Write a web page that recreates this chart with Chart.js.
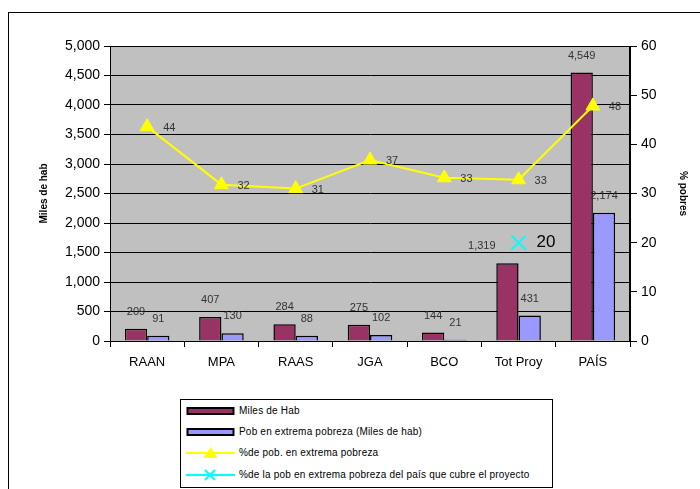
<!DOCTYPE html>
<html>
<head>
<meta charset="utf-8">
<script src="https://cdn.jsdelivr.net/npm/chart.js@4"></script>
<style>
  html, body { margin: 0; padding: 0; background: #fff; overflow: hidden; }
  #wrap { position: relative; width: 700px; height: 489px; }
  #legend {
    position: absolute; left: 180px; top: 399px; width: 373px; height: 89px;
    border: 1px solid #000; background: #fff; box-sizing: border-box;
    font-family: "Liberation Sans", Arial, sans-serif; font-size: 10px; color: #000;
  }
  .item { position: absolute; left: 0; height: 14px; width: 372px; }
  .item svg { position: absolute; left: 5px; top: 0; }
  .item span { position: absolute; left: 58px; top: 1px; white-space: nowrap; letter-spacing: 0.2px; }
</style>
</head>
<body>
<div id="wrap">
  <canvas id="chart" width="700" height="489"></canvas>
  <div id="legend"></div>
</div>
<script>
const categories = ['RAAN', 'MPA', 'RAAS', 'JGA', 'BCO', 'Tot Proy', 'PAÍS'];
const milesHab = [209, 407, 284, 275, 144, 1319, 4549];
const pobExtrema = [91, 130, 88, 102, 21, 431, 2174];
const pctPobExtrema = [43.6, 31.8, 31.0, 36.8, 33.2, 32.8, 47.8];
const pctPaisProyecto = [null, null, null, null, null, 20, null];

const seriesNames = [
    'Miles de Hab',
    'Pob en extrema pobreza (Miles de hab)',
    '%de pob. en extrema pobreza',
    '%de la pob en extrema pobreza del país que cubre el proyecto'
];

const FONT = '"Liberation Sans", Arial, sans-serif';

// gray plot area, outer frame and plot border
const backdrop = {
    id: 'backdrop',
    beforeDraw(chart) {
        const {ctx, chartArea: a} = chart;
        ctx.save();
        ctx.fillStyle = '#fff';
        ctx.fillRect(0, 0, chart.width, chart.height);
        ctx.strokeStyle = '#000';
        ctx.lineWidth = 1;
        ctx.strokeRect(8.5, 12.5, 900, 900);
        ctx.fillStyle = '#C0C0C0';
        ctx.fillRect(a.left, a.top, a.right - a.left, a.bottom - a.top);
        ctx.restore();
    },
    afterDraw(chart) {
        const {ctx, chartArea: a} = chart;
        ctx.save();
        ctx.strokeStyle = '#000';
        ctx.lineWidth = 1;
        ctx.strokeRect(a.left + 0.5, a.top + 0.5, a.right - a.left - 1, a.bottom - a.top);
        ctx.restore();
    }
};

// value labels
const valueLabels = {
    id: 'valueLabels',
    afterDatasetsDraw(chart) {
        const ctx = chart.ctx;
        const cm = chart.getDatasetMeta(3);
        ctx.save();
        ctx.fillStyle = '#333';
        ctx.font = '11px ' + FONT;
        [0, 1].forEach(di => {
            const meta = chart.getDatasetMeta(di);
            meta.data.forEach((el, i) => {
                const txt = chart.data.datasets[di].data[i].toLocaleString('en-US');
                let x = el.x;
                const y = el.y - 17;
                const w = ctx.measureText(txt).width;
                // keep clear of the cross marker
                const m = cm.data[i];
                if (pctPaisProyecto[i] !== null && m && Math.abs(m.y - y) < 14 && Math.abs(m.x - x) < w / 2 + 10) {
                    x = m.x - 23 - w / 2;
                }
                ctx.textAlign = 'center';
                ctx.textBaseline = 'middle';
                ctx.fillText(txt, x, y);
            });
        });
        const lm = chart.getDatasetMeta(2);
        lm.data.forEach((el, i) => {
            ctx.textAlign = 'left';
            ctx.textBaseline = 'middle';
            ctx.fillText(String(Math.round(pctPobExtrema[i])), el.x + 16, el.y + 1);
        });
        ctx.font = '17px ' + FONT;
        ctx.fillStyle = '#000';
        cm.data.forEach((el, i) => {
            const v = pctPaisProyecto[i];
            if (v === null) return;
            ctx.textAlign = 'left';
            ctx.textBaseline = 'middle';
            ctx.fillText(String(v), el.x + 18, el.y);
        });
        ctx.restore();
    }
};

const config = {
    type: 'bar',
    data: {
        labels: categories,
        datasets: [
            {
                label: seriesNames[0],
                data: milesHab,
                backgroundColor: '#993366',
                borderColor: '#000',
                borderWidth: 1.5,
                yAxisID: 'y',
                order: 2
            },
            {
                label: seriesNames[1],
                data: pobExtrema,
                backgroundColor: '#9999FF',
                borderColor: '#000',
                borderWidth: 1.5,
                yAxisID: 'y',
                order: 2
            },
            {
                type: 'line',
                label: seriesNames[2],
                data: pctPobExtrema,
                borderColor: '#FFFF00',
                backgroundColor: '#FFFF00',
                borderWidth: 2,
                pointStyle: 'triangle',
                pointRadius: 8,
                pointBorderWidth: 1,
                yAxisID: 'y1',
                order: 1
            },
            {
                type: 'line',
                label: seriesNames[3],
                data: pctPaisProyecto,
                borderColor: '#00FFFF',
                backgroundColor: '#00FFFF',
                borderWidth: 2,
                showLine: false,
                pointStyle: 'crossRot',
                pointRadius: 10,
                pointBorderWidth: 2,
                yAxisID: 'y1',
                order: 0
            }
        ]
    },
    options: {
        responsive: false,
        animation: false,
        layout: { padding: { top: 46, left: 0, right: 0, bottom: 0 } },
        datasets: {
            bar: { categoryPercentage: 0.6, barPercentage: 1.0 }
        },
        plugins: {
            legend: { display: false },
            tooltip: { enabled: false }
        },
        scales: {
            x: {
                grid: { offset: true, drawOnChartArea: false, color: '#000', tickLength: 6 },
                border: { color: '#000' },
                ticks: { color: '#000', font: { family: FONT, size: 13 }, padding: 8 },
                afterFit(s) { s.height = 148; }
            },
            y: {
                position: 'left',
                min: 0,
                max: 5000,
                ticks: {
                    stepSize: 500,
                    color: '#000',
                    font: { family: FONT, size: 14 },
                    padding: 4,
                    callback: v => v.toLocaleString('en-US')
                },
                grid: { color: '#000', tickLength: 6 },
                border: { color: '#000' },
                title: {
                    display: true,
                    text: 'Miles de hab',
                    color: '#000',
                    font: { family: FONT, size: 10, weight: 'bold' },
                    padding: { top: 38, bottom: 0 }
                },
                afterFit(s) { s.width = 110; }
            },
            y1: {
                position: 'right',
                min: 0,
                max: 60,
                ticks: {
                    stepSize: 10,
                    color: '#000',
                    font: { family: FONT, size: 14 },
                    padding: 4
                },
                grid: { drawOnChartArea: false, color: '#000', tickLength: 7 },
                border: { color: '#000' },
                title: {
                    display: true,
                    text: '% pobres',
                    color: '#000',
                    font: { family: FONT, size: 10, weight: 'bold' },
                    padding: { top: 11, bottom: 0 }
                },
                afterFit(s) { s.width = 70; }
            }
        }
    },
    plugins: [backdrop, valueLabels]
};

const ctx = document.getElementById('chart').getContext('2d');
new Chart(ctx, config);

// legend built as html
const legend = document.getElementById('legend');
const icons = [
    '<svg width="50" height="14"><rect x="1.5" y="4" width="46" height="6" fill="#993366" stroke="#000" stroke-width="2"/></svg>',
    '<svg width="50" height="14"><rect x="1.5" y="4" width="46" height="6" fill="#9999FF" stroke="#000" stroke-width="2"/></svg>',
    '<svg width="50" height="14"><line x1="0" y1="7" x2="49" y2="7" stroke="#FFFF00" stroke-width="2"/><polygon points="24.5,1 31.5,12 17.5,12" fill="#FFFF00"/></svg>',
    '<svg width="50" height="14"><line x1="0" y1="7" x2="49" y2="7" stroke="#00FFFF" stroke-width="2"/><line x1="19" y1="2" x2="29" y2="12" stroke="#00FFFF" stroke-width="2"/><line x1="29" y1="2" x2="19" y2="12" stroke="#00FFFF" stroke-width="2"/></svg>'
];
const rowTops = [4, 25, 46, 68];
seriesNames.forEach((name, i) => {
    const d = document.createElement('div');
    d.className = 'item';
    d.style.top = rowTops[i] + 'px';
    d.innerHTML = icons[i] + '<span>' + name + '</span>';
    legend.appendChild(d);
});
</script>
</body>
</html>
